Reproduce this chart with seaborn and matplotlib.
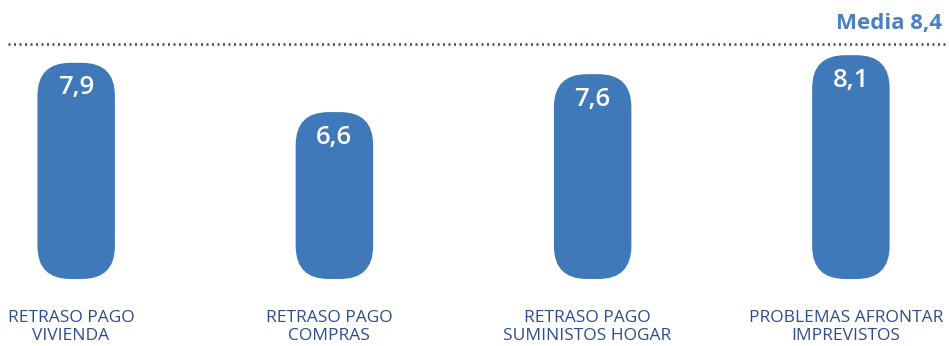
import matplotlib
matplotlib.use("Agg")
import matplotlib.pyplot as plt
from matplotlib.patches import FancyBboxPatch
import seaborn as sns

categories = [
    "RETRASO PAGO\nVIVIENDA",
    "RETRASO PAGO\nCOMPRAS",
    "RETRASO PAGO\nSUMINISTOS HOGAR",
    "PROBLEMAS AFRONTAR\nIMPREVISTOS",
]
values = [7.9, 6.6, 7.6, 8.1]
media = 8.4

BAR_COLOR = "#3f79ba"
LABEL_COLOR = "#2d4c8f"
MEDIA_COLOR = "#4a80c1"
DOT_COLOR = "#27478f"
FONT = "Open Sans"

sns.set_theme(style="white")
plt.rcParams["font.family"] = [FONT, "DejaVu Sans"]

W, H = 949, 346
fig = plt.figure(figsize=(W / 100, H / 100), dpi=100)
ax = fig.add_axes([0, 0, 1, 1])

sns.barplot(x=categories, y=values, color=BAR_COLOR, width=0.3,
            saturation=1, ax=ax)

XLIM = (-0.295, 3.380)
YLIM = (0.431, 9.556)
BASE = 2.198
ax.set_xlim(*XLIM)
ax.set_ylim(*YLIM)
ax.axis("off")

px_x = W / (XLIM[1] - XLIM[0])
px_y = H / (YLIM[1] - YLIM[0])
radius_px = 33

# rebuild each bar as a pill with rounded ends
for patch in list(ax.patches):
    x0, w, top = patch.get_x(), patch.get_width(), patch.get_height()
    patch.remove()
    pill = FancyBboxPatch(
        (x0, BASE), w, top - BASE,
        boxstyle=f"round,pad=0,rounding_size={radius_px / px_x}",
        mutation_aspect=px_x / px_y,
        facecolor=BAR_COLOR, edgecolor="none",
    )
    ax.add_patch(pill)

for i, v in enumerate(values):
    ax.annotate(f"{v:.1f}".replace(".", ","), xy=(i, v),
                xytext=(0, -25), textcoords="offset pixels",
                ha="center", va="center", color="white",
                fontsize=18.5, fontweight="semibold")
    ax.text(i - 0.02, 0.0545, categories[i], transform=ax.get_xaxis_transform(),
            ha="center", va="center", color=LABEL_COLOR, fontsize=12.5,
            linespacing=1.2)

# average reference line
ax.plot([8 / W * (XLIM[1] - XLIM[0]) + XLIM[0],
         945 / W * (XLIM[1] - XLIM[0]) + XLIM[0]], [media, media],
        color=DOT_COLOR, linewidth=1.8, linestyle=(0, (0.8, 1.4)),
        dash_capstyle="butt")
ax.text(942 / W, 1 - 29 / H, f"Media {media:.1f}".replace(".", ","),
        transform=ax.transAxes, ha="right", va="baseline",
        color=MEDIA_COLOR, fontsize=16, fontweight="bold")

fig.savefig("out.png", dpi=100)
